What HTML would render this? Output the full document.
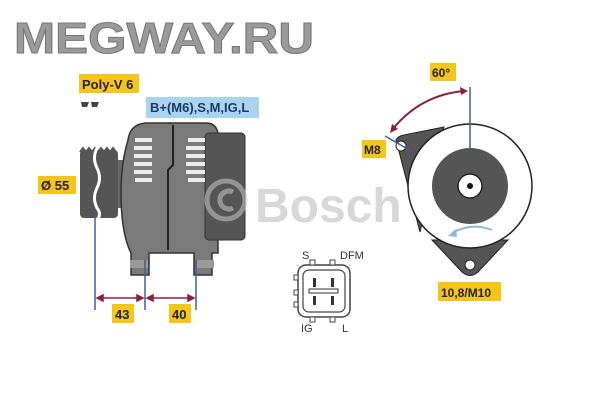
<!DOCTYPE html>
<html><head><meta charset="utf-8"><style>
html,body{margin:0;padding:0;background:#fff}
svg{display:block}
</style></head><body>
<svg width="600" height="400" viewBox="0 0 600 400" xmlns="http://www.w3.org/2000/svg" font-family="Liberation Sans, Arial, sans-serif">
<rect width="600" height="400" fill="#fff"/>
<text x="14" y="53" font-size="44" font-weight="bold" fill="#9a9a9a" stroke="#777" stroke-width="1" textLength="300" lengthAdjust="spacingAndGlyphs">MEGWAY.RU</text>

<rect x="79" y="74" width="60" height="19" fill="#f5c518"/>
<text x="82" y="89" font-size="13" font-weight="bold" fill="#222">Poly-V 6</text>
<path d="M81 102h8l-2 5h-5zM91 102h8l-2 5h-5z" fill="#444"/>
<rect x="146" y="97" width="113" height="21" fill="#a9d3f0"/>
<text x="150" y="112" font-size="13" font-weight="bold" fill="#1a3a6a">B+(M6),S,M,IG,L</text>

<rect x="80" y="150" width="38" height="68" rx="4" fill="#555"/>
<path d="M80 152l3 -4 3 4 3 -4 3 4 3 -4 3 4 3 -4 3 4 3-4 3 4 3 -4 3 4" fill="none" stroke="#555" stroke-width="2"/>
<path d="M97 148 q-5 10 0 20 q5 10 0 20 q-5 10 0 20 q5 6 0 12" fill="none" stroke="#fff" stroke-width="3"/>
<rect x="118" y="160" width="10" height="48" fill="#666"/>
<path d="M128 140 q2 -16 18 -17 h60 q10 0 12 10 v120 h-6 v22 h-18 v-22 h-45 v22 h-18 v-22 q-10 -20 -10 -60 q0 -30 7 -53z" fill="#7a7a7a" stroke="#333" stroke-width="1.5"/>
<rect x="205" y="133" width="40" height="107" rx="4" fill="#555" stroke="#333"/>
<path d="M173 125 v40 l-5 5 v80" fill="none" stroke="#222" stroke-width="2"/>
<g stroke="#eee" stroke-width="4">
<line x1="135" y1="140" x2="152" y2="140"/><line x1="134" y1="148" x2="152" y2="148"/><line x1="134" y1="156" x2="152" y2="156"/><line x1="134" y1="164" x2="152" y2="164"/><line x1="134" y1="172" x2="152" y2="172"/><line x1="135" y1="180" x2="152" y2="180"/>
<line x1="188" y1="140" x2="205" y2="140"/><line x1="186" y1="148" x2="205" y2="148"/><line x1="186" y1="156" x2="205" y2="156"/><line x1="186" y1="164" x2="205" y2="164"/><line x1="186" y1="172" x2="205" y2="172"/><line x1="188" y1="180" x2="205" y2="180"/>
</g>
<rect x="130" y="260" width="18" height="8" fill="#999"/><rect x="197" y="260" width="17" height="8" fill="#999"/>

<g opacity="0.55">
<circle cx="226" cy="200" r="19" fill="none" stroke="#c8c8c8" stroke-width="5"/>
<path d="M233 192 a9 9 0 1 0 0 16" fill="none" stroke="#c8c8c8" stroke-width="5"/>
</g>
<text x="255" y="222" font-size="48" font-weight="bold" fill="#d8d8d8">Bosch</text>

<g stroke="#3a5fa0" stroke-width="1.5">
<line x1="95" y1="215" x2="95" y2="310"/><line x1="145" y1="260" x2="145" y2="310"/><line x1="196" y1="260" x2="196" y2="310"/>
</g>
<g stroke="#8b2040" stroke-width="1.5" fill="#8b2040">
<line x1="98" y1="298" x2="142" y2="298"/><line x1="148" y1="298" x2="193" y2="298"/>
<path d="M97 298l6-3v6zM143 298l-6-3v6zM147 298l6-3v6zM194 298l-6-3v6z"/>
</g>
<rect x="112" y="304" width="22" height="19" fill="#f5c518"/>
<text x="115" y="319" font-size="13" font-weight="bold" fill="#222">43</text>
<rect x="169" y="304" width="22" height="19" fill="#f5c518"/>
<text x="172" y="319" font-size="13" font-weight="bold" fill="#222">40</text>
<rect x="38" y="176" width="38" height="18" fill="#f5c518"/>
<text x="41" y="190" font-size="13" font-weight="bold" fill="#222">Ø 55</text>

<text x="302" y="259" font-size="11" fill="#333">S</text>
<text x="340" y="259" font-size="11" fill="#333">DFM</text>
<text x="301" y="332" font-size="11" fill="#333">IG</text>
<text x="342" y="332" font-size="11" fill="#333">L</text>
<rect x="298" y="265" width="52" height="52" rx="8" fill="#fff" stroke="#444" stroke-width="1.5"/>
<rect x="303" y="270" width="42" height="42" rx="6" fill="#fff" stroke="#444" stroke-width="1.2"/>
<rect x="310" y="260" width="5" height="5" fill="#fff" stroke="#444"/><rect x="330" y="260" width="5" height="5" fill="#fff" stroke="#444"/>
<rect x="310" y="317" width="5" height="5" fill="#fff" stroke="#444"/><rect x="330" y="317" width="5" height="5" fill="#fff" stroke="#444"/>
<rect x="294" y="275" width="4" height="5" fill="#fff" stroke="#444"/><rect x="294" y="290" width="4" height="5" fill="#fff" stroke="#444"/><rect x="294" y="302" width="4" height="5" fill="#fff" stroke="#444"/>
<rect x="313" y="278" width="3" height="9" fill="#333"/><rect x="331" y="278" width="3" height="9" fill="#333"/>
<rect x="313" y="296" width="3" height="9" fill="#333"/><rect x="331" y="296" width="3" height="9" fill="#333"/>
<rect x="309" y="289" width="29" height="4" fill="#fff" stroke="#333"/>

<path d="M396 140 Q398 136 404 135 L444 127 L420 232 Z" fill="#555" stroke="#222"/>
<path d="M432 240 L462 272 Q470 279 478 272 L508 240 Z" fill="#555" stroke="#222"/>
<circle cx="470" cy="186" r="62" fill="#fff" stroke="#222" stroke-width="1.5"/>
<circle cx="470" cy="186" r="38" fill="#555"/>
<circle cx="470" cy="186" r="12" fill="#fff" stroke="#222" stroke-width="1.5"/>
<circle cx="470" cy="186" r="3" fill="#111"/>
<circle cx="401" cy="146" r="5" fill="#fff" stroke="#222"/>
<circle cx="470" cy="265" r="5" fill="#fff" stroke="#222"/>
<path d="M492 230 q-20 -8 -40 3" fill="none" stroke="#8cb8e0" stroke-width="2"/>
<path d="M448 236 l8 -7 l1 8z" fill="#8cb8e0"/>
<line x1="470" y1="87" x2="470" y2="148" stroke="#3a5fa0" stroke-width="1.5"/>
<line x1="385" y1="136" x2="413" y2="152" stroke="#3a5fa0" stroke-width="1.5"/>
<path d="M464 91 Q420 95 392 130" fill="none" stroke="#8b2040" stroke-width="2"/>
<path d="M468 91 l-8 -4 l1 8z M390 133 l2 -9 l6 5z" fill="#8b2040"/>
<rect x="430" y="63" width="26" height="18" fill="#f5c518"/>
<text x="432" y="77" font-size="12" font-weight="bold" fill="#222">60°</text>
<rect x="362" y="140" width="24" height="18" fill="#f5c518"/>
<text x="364" y="154" font-size="12" font-weight="bold" fill="#222">M8</text>
<rect x="438" y="282" width="63" height="19" fill="#f5c518"/>
<text x="441" y="297" font-size="12" font-weight="bold" fill="#222">10,8/M10</text>
</svg>
</body></html>
